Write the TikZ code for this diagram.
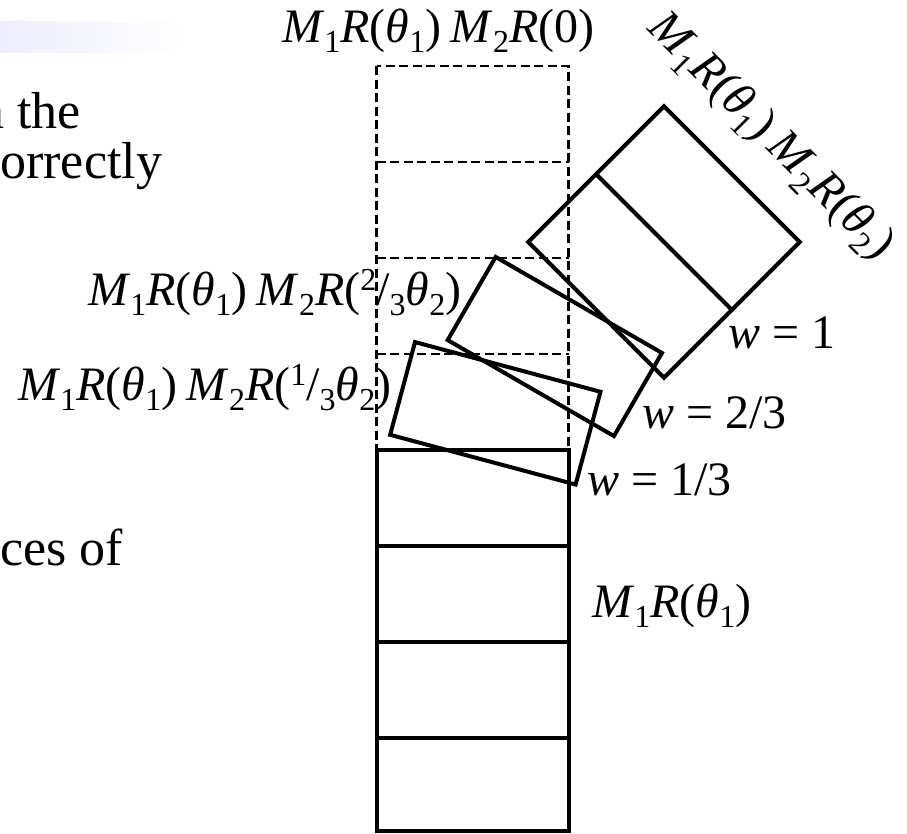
\documentclass[tikz,border=0pt]{standalone}
\usepackage{fontspec}
\setmainfont{Liberation Serif}
\newcommand{\lo}[1]{\raisebox{-0.22em}{\fontsize{32}{32}\selectfont #1}}
\newcommand{\hi}[1]{\raisebox{0.3em}{\fontsize{32}{32}\selectfont #1}}
\newcommand{\armlabel}[1]{\textit{M}\lo{1}\textit{R}(\textit{θ}\lo{1})\hspace{0.2em}\textit{M}\lo{2}\textit{R}(#1)}
\begin{document}
\begin{tikzpicture}[x=1pt,y=-1pt,
  armbox/.style={line width=4pt},
  ghost/.style={line width=2.5pt, dash pattern=on 9pt off 4.5pt},
  lbl/.style={inner sep=0pt, anchor=base west, font=\fontsize{48}{52}\selectfont},
  body/.style={inner sep=0pt, anchor=base west, font=\fontsize{52}{56}\selectfont}]
\useasboundingbox (0,0) rectangle (907,833);
\clip (0,0) rectangle (907,833);
% header bar
\shade[left color=blue!7, right color=white] (0,21) rectangle (185,52);
% body text (cut at the left edge)
\node[body] (t1) at (-22,128) {n the};
\node[body] (t2) at (-23,178) {correctly};
\node[body] (t3) at (0,565) {ces of};
% dashed stack (unrotated arm)
\draw[ghost] (376.5,66) rectangle (568.5,450);
\foreach \yy in {162,258,354} \draw[ghost] (376.5,\yy) -- (568.5,\yy);
% solid lower stack
\draw[armbox] (376.5,450) rectangle (568.5,831);
\foreach \yy in {546,642,738} \draw[armbox] (376.5,\yy) -- (568.5,\yy);
% w = 1/3
\draw[armbox, shift={(495.3,413.3)}, rotate=-15] (-96,-48) -- (96,-48) -- (96,48) -- (-96,48) -- cycle;
% w = 2/3
\draw[armbox, shift={(554.8,346.5)}, rotate=-30] (-96,-48) -- (96,-48) -- (96,48) -- (-96,48) -- cycle;
% w = 1
\begin{scope}[shift={(664,242)}, rotate=-45]
\draw[armbox] (-96,-96) -- (96,-96) -- (96,96) -- (-96,96) -- cycle;
\draw[armbox] (-96,0) -- (96,0);
\end{scope}
% labels
\node[lbl] (l0) at (282,42) {\armlabel{0}};
\node[lbl, rotate=-45] (l3) at (646,29) {\armlabel{\textit{θ}\lo{2}}};
\node[lbl] (l2) at (88,305) {\armlabel{\hi{2}/\lo{3}\textit{θ}\lo{2}}};
\node[lbl] (l1) at (18,400) {\armlabel{\hi{1}/\lo{3}\textit{θ}\lo{2}}};
\node[lbl] (w1) at (728,348) {\textit{w} = 1};
\node[lbl] (w2) at (642,428) {\textit{w} = 2/3};
\node[lbl] (w3) at (587,495) {\textit{w} = 1/3};
\node[lbl] (m1) at (592,617) {\textit{M}\lo{1}\textit{R}(\textit{θ}\lo{1})};
\end{tikzpicture}
\end{document}
